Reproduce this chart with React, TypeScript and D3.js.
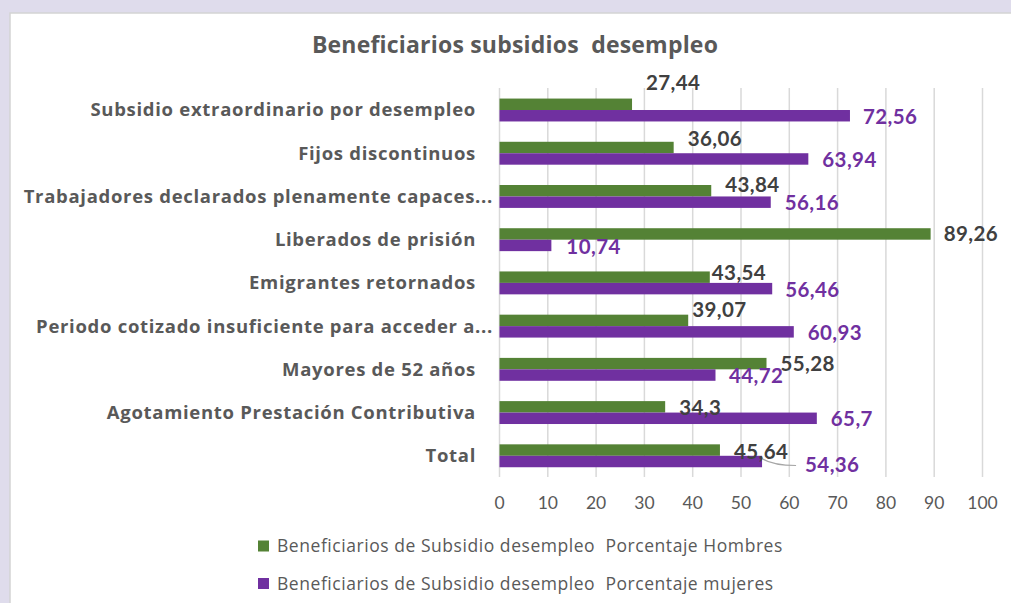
import React, { useEffect, useRef } from "react";
import * as d3 from "d3";

// Data
const categories = [
  "Subsidio extraordinario por desempleo",
  "Fijos discontinuos",
  "Trabajadores declarados plenamente capaces...",
  "Liberados de prisión",
  "Emigrantes retornados",
  "Periodo cotizado insuficiente para acceder a...",
  "Mayores de 52 años",
  "Agotamiento Prestación Contributiva",
  "Total",
];
const hombres = [27.44, 36.06, 43.84, 89.26, 43.54, 39.07, 55.28, 34.3, 45.64];
const mujeres = [72.56, 63.94, 56.16, 10.74, 56.46, 60.93, 44.72, 65.7, 54.36];
const xTicks = [0, 10, 20, 30, 40, 50, 60, 70, 80, 90, 100];
const seriesNames = [
  "Beneficiarios de Subsidio desempleo  Porcentaje Hombres",
  "Beneficiarios de Subsidio desempleo  Porcentaje mujeres",
];

// Manual label nudges (Excel had hand-placed labels)
const greenNudge = [[14, -21.6], [14, -8.6], [14, -5.8], [13, 0], [2, -4.3], [4, -11], [14, 0.5], [14, 1.3], [14, 1.8]];
const purpleNudge = [[13, 1.5], [14, 1], [14, 1], [15, 1], [13, 1], [14, 1], [13.5, 1], [14, 1], [43, 3.5]];

const GREEN = "#548235";
const PURPLE = "#7030a0";
const TEXT = "#595959";
const FONT = "Lato, 'Open Sans', sans-serif";
const WIDE = "'Open Sans', Lato, sans-serif";

const fmt = (v: number) => String(v).replace(".", ",");

const App = () => {
  const svgRef = useRef<SVGSVGElement>(null);

  useEffect(() => {
    const width = 1011;
    const height = 603;

    const svg = d3.select(svgRef.current).attr("width", width).attr("height", height);
    svg.selectAll("*").remove();

    // Background frame
    svg.append("rect").attr("width", width).attr("height", height).attr("fill", "#dfdcec");
    svg
      .append("rect")
      .attr("x", 10)
      .attr("y", 13)
      .attr("width", width)
      .attr("height", height)
      .attr("fill", "#ffffff")
      .attr("stroke", "#d4d4d4")
      .attr("stroke-width", 1.5);

    // Scales
    const xScale = d3.scaleLinear().domain([0, 100]).range([499.5, 982.5]);
    const yScale = d3
      .scaleBand()
      .domain(categories)
      .range([88.4, 477.4])
      .paddingInner(0.47)
      .paddingOuter(0.235);
    const sub = d3.scaleBand().domain(["h", "m"]).range([0, yScale.bandwidth()]);

    // Title
    svg
      .append("text")
      .attr("x", 515)
      .attr("y", 45)
      .attr("dy", "0.35em")
      .attr("text-anchor", "middle")
      .attr("font-family", WIDE)
      .attr("font-weight", "bold")
      .attr("font-size", 23)
      .attr("letter-spacing", 0.2)
      .attr("fill", TEXT)
      .style("white-space", "pre")
      .text("Beneficiarios subsidios  desempleo");

    // Gridlines
    svg
      .append("g")
      .selectAll("line")
      .data(xTicks)
      .enter()
      .append("line")
      .attr("x1", (d) => xScale(d))
      .attr("x2", (d) => xScale(d))
      .attr("y1", 88)
      .attr("y2", 477)
      .attr("stroke", "#d9d9d9")
      .attr("stroke-width", 1.5);

    // Tick labels
    svg
      .append("g")
      .selectAll("text")
      .data(xTicks)
      .enter()
      .append("text")
      .attr("x", (d) => xScale(d))
      .attr("y", 502.5)
      .attr("dy", "0.35em")
      .attr("text-anchor", "middle")
      .attr("font-family", FONT)
      .attr("font-size", 17.5)
      .attr("fill", TEXT)
      .text((d) => d);

    // Category labels
    svg
      .append("g")
      .selectAll("text")
      .data(categories)
      .enter()
      .append("text")
      .attr("x", (d) => (d.endsWith("...") ? 493 : 476))
      .attr("y", (d) => (yScale(d) as number) + yScale.bandwidth() / 2)
      .attr("dy", "0.35em")
      .attr("text-anchor", "end")
      .attr("font-family", WIDE)
      .attr("font-weight", "bold")
      .attr("font-size", 18.5)
      .attr("letter-spacing", 0.7)
      .attr("fill", TEXT)
      .text((d) => d);

    // Bars
    const rows = categories.map((c, i) => ({ c, i, h: hombres[i], m: mujeres[i] }));

    svg
      .append("g")
      .selectAll("rect")
      .data(rows)
      .enter()
      .append("rect")
      .attr("x", xScale(0))
      .attr("y", (d) => (yScale(d.c) as number) + (sub("h") as number))
      .attr("width", (d) => xScale(d.h) - xScale(0))
      .attr("height", sub.bandwidth())
      .attr("fill", GREEN);

    svg
      .append("g")
      .selectAll("rect")
      .data(rows)
      .enter()
      .append("rect")
      .attr("x", xScale(0))
      .attr("y", (d) => (yScale(d.c) as number) + (sub("m") as number))
      .attr("width", (d) => xScale(d.m) - xScale(0))
      .attr("height", sub.bandwidth())
      .attr("fill", PURPLE);

    // Leader line for the Total women label
    const last = rows[rows.length - 1];
    const ly = (yScale(last.c) as number) + (sub("m") as number) + sub.bandwidth() / 2;
    const lx = xScale(last.m);
    svg
      .append("path")
      .attr("d", `M${lx - 2},${ly - 4} Q${lx + 10},${ly + 4} ${lx + 34},${ly + 4}`)
      .attr("fill", "none")
      .attr("stroke", "#a6a6a6")
      .attr("stroke-width", 1.2);

    // Value labels
    svg
      .append("g")
      .selectAll("text")
      .data(rows)
      .enter()
      .append("text")
      .attr("x", (d) => xScale(d.h) + greenNudge[d.i][0])
      .attr("y", (d) => (yScale(d.c) as number) + (sub("h") as number) + sub.bandwidth() / 2 + greenNudge[d.i][1])
      .attr("dy", "0.35em")
      .attr("font-family", FONT)
      .attr("font-weight", "bold")
      .attr("font-size", 20.5)
      .attr("letter-spacing", 0.4)
      .attr("fill", "#404040")
      .text((d) => fmt(d.h));

    svg
      .append("g")
      .selectAll("text")
      .data(rows)
      .enter()
      .append("text")
      .attr("x", (d) => xScale(d.m) + purpleNudge[d.i][0])
      .attr("y", (d) => (yScale(d.c) as number) + (sub("m") as number) + sub.bandwidth() / 2 + purpleNudge[d.i][1])
      .attr("dy", "0.35em")
      .attr("font-family", FONT)
      .attr("font-weight", "bold")
      .attr("font-size", 20.5)
      .attr("letter-spacing", 0.4)
      .attr("fill", PURPLE)
      .text((d) => fmt(d.m));

    // Legend
    const legend = svg
      .append("g")
      .selectAll("g")
      .data(seriesNames)
      .enter()
      .append("g")
      .attr("transform", (d, i) => `translate(258, ${546 + i * 37.5})`);
    legend
      .append("rect")
      .attr("x", 0)
      .attr("y", -5.5)
      .attr("width", 11)
      .attr("height", 11)
      .attr("fill", (d, i) => (i === 0 ? GREEN : PURPLE));
    legend
      .append("text")
      .attr("x", 19)
      .attr("y", 0)
      .attr("dy", "0.35em")
      .attr("font-family", WIDE)
      .attr("font-size", 17.5)
      .attr("letter-spacing", 0.55)
      .attr("fill", TEXT)
      .style("white-space", "pre")
      .text((d) => d);
  }, []);

  return <svg ref={svgRef} style={{ position: "absolute", left: 0, top: 0, display: "block" }}></svg>;
};

export default App;
